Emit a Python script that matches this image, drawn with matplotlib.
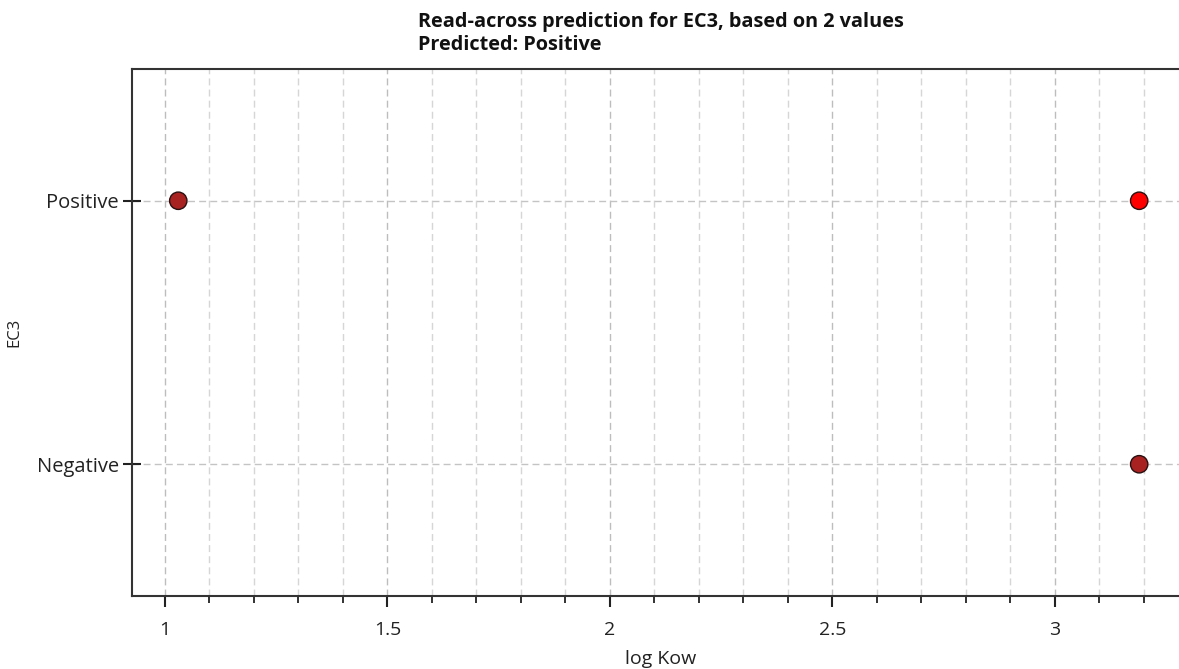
import numpy as np
import matplotlib.pyplot as plt
from matplotlib.ticker import MultipleLocator

plt.rcParams["font.family"] = ["Open Sans", "DejaVu Sans"]

# -----------------------------
# Data
# -----------------------------
categories = ["Negative", "Positive"]
log_kow = [1.03, 3.19, 3.19]
ec3_class = ["Positive", "Negative", "Positive"]
point_colors = ["#a82222", "#a82222", "#ff0000"]

title_text = "Read-across prediction for EC3, based on 2 values\nPredicted: Positive"

# -----------------------------
# Figure
# -----------------------------
W, H = 1179, 669
fig = plt.figure(figsize=(W / 100, H / 100), dpi=100)

left, right, top, bottom = 132, 1189, 69, 596
ax = fig.add_axes([left / W, 1 - bottom / H, (right - left) / W, (bottom - top) / H])

ypos = [categories.index(c) for c in ec3_class]
ax.scatter(log_kow, ypos, s=12.5 ** 2, c=point_colors, edgecolors="#2a1010",
           linewidths=1.0, zorder=3)

ax.set_xlim(0.926, 3.302)
ax.set_ylim(-0.5, 1.5)
ax.set_yticks(range(len(categories)))
ax.set_yticklabels(categories)

ax.xaxis.set_major_locator(MultipleLocator(0.5))
ax.xaxis.set_minor_locator(MultipleLocator(0.1))
ax.xaxis.set_major_formatter(plt.FuncFormatter(lambda v, p: f"{v:g}"))

# grid
ax.grid(True, which="major", axis="x", linestyle=(0, (5, 3)), color="#bdbdbd", linewidth=1.0)
ax.grid(True, which="minor", axis="x", linestyle=(0, (5, 3)), color="#d6d6d6", linewidth=1.0)
ax.grid(True, which="major", axis="y", linestyle=(0, (5, 3)), color="#c4c4c4", linewidth=1.0)
ax.set_axisbelow(True)

# spines / ticks
for side in ["left", "top", "bottom"]:
    ax.spines[side].set_color("#333333")
    ax.spines[side].set_linewidth(1.5)
ax.spines["right"].set_visible(False)

ax.tick_params(axis="x", which="major", direction="out", length=8, width=1.5,
               color="#222222", labelsize=14, pad=10, labelcolor="#222222")
ax.tick_params(axis="x", which="minor", direction="out", length=5, width=1.3,
               color="#222222")
ax.tick_params(axis="y", which="major", direction="inout", length=13, width=1.5,
               color="#222222", labelsize=14.5, pad=3, labelcolor="#222222")

ax.set_xlabel("log Kow", fontsize=14, color="#222222", labelpad=8)
ax.set_ylabel("EC3", fontsize=12, color="#222222", labelpad=10)

ax.set_title(title_text, fontsize=14.3, fontweight="bold", loc="center",
             multialignment="left", pad=14, linespacing=1.2, color="#111111")

fig.savefig("out.png", dpi=100)
